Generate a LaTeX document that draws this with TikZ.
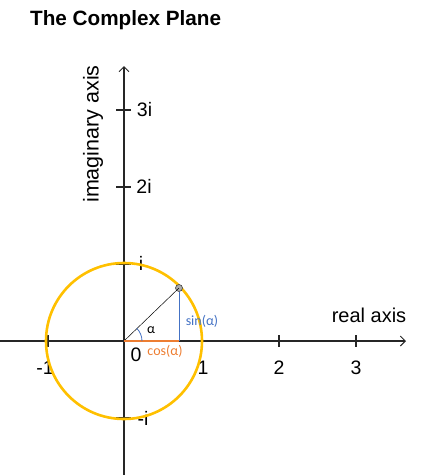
\documentclass[tikz,border=0pt]{standalone}
\usepackage{fontspec}
\setmainfont{Liberation Sans}
\newfontfamily\calibfont{Carlito}
\usetikzlibrary{arrows.meta}
\definecolor{cgold}{HTML}{FFC000}
\definecolor{corange}{HTML}{ED7D31}
\definecolor{cblue}{HTML}{4472C4}
\begin{document}
\begin{tikzpicture}[x=1pt,y=-1pt,
  axisline/.style={line width=1.3pt, draw=black!85, -{Straight Barb[length=5pt,width=10pt,line width=1pt]}},
  tickline/.style={line width=1.1pt, draw=black!85},
  lbl/.style={font=\fontsize{19.5}{19.5}\selectfont, inner sep=0pt},
  small/.style={font=\calibfont\fontsize{14}{14}\selectfont, inner sep=0pt}]
\useasboundingbox (0,0) rectangle (421,475);
\node[anchor=west, inner sep=0pt, font=\bfseries\fontsize{20.7}{20.7}\selectfont] (title) at (30,20) {The Complex Plane};
\coordinate (O) at (124,341);
\coordinate (xs) at (0,341);
\coordinate (xe) at (406,341);
\coordinate (ys) at (124,475);
\coordinate (ye) at (124,66);
\draw[axisline] (xs) -- (xe);
\draw[axisline] (ys) -- (ye);
\foreach \k in {-1,1,2,3} {
  \draw[tickline] ({125+77*\k},335) -- ({125+77*\k},347);
  \draw[tickline] (116,{341-77*\k}) -- (131,{341-77*\k});
}
\node[lbl] (lm1) at (45,368) {-1};
\node[lbl] (l1) at (203,368) {1};
\node[lbl] (l2) at (279,368) {2};
\node[lbl] (l3) at (356,368) {3};
\node[lbl] (l0) at (136,355) {0};
\node[lbl] (li) at (141,263) {i};
\node[lbl] (lmi) at (143,418) {-i};
\node[lbl] (l2i) at (144,186) {2i};
\node[lbl] (l3i) at (144.5,110) {3i};
\node[lbl, font=\fontsize{20}{20}\selectfont] (real) at (369,315) {real axis};
\node[lbl, rotate=90, font=\fontsize{21.5}{21.5}\selectfont] (imag) at (93,134) {imaginary axis};
\draw[cgold, line width=2.6pt] (O) circle[radius=78pt];
\coordinate (F) at (179,341);
\node[circle, fill=gray!65, draw=black!75, line width=0.6pt, inner sep=0pt, minimum size=7pt] (P) at (179,288) {};
\draw[black, line width=0.5pt] (O) -- (P.center);
\draw[cblue, line width=0.8pt] (P) -- (F);
\draw[corange, line width=2pt] (O) -- (F);
\draw[cblue, line width=0.8pt] (O) ++(18pt,0) arc[start angle=0, end angle=45, radius=18pt];
\node[small, text=black] (alpha) at (151,330) {α};
\node[small, text=cblue] (sin) at (202,321) {sin(α)};
\node[small, text=corange] (cos) at (165,351) {cos(α)};
\end{tikzpicture}
\end{document}
